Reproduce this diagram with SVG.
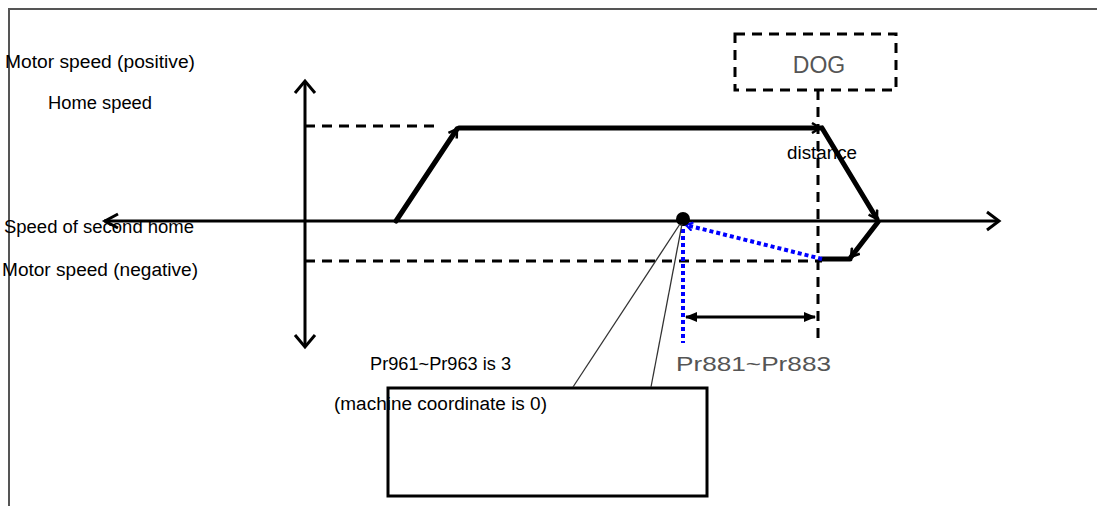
<svg xmlns="http://www.w3.org/2000/svg" width="1097" height="506" viewBox="0 0 1097 506">
<style>
.t{font-family:"Liberation Sans",Arial,sans-serif;font-size:18px;fill:#000}
.g{font-family:"Liberation Sans",Arial,sans-serif;fill:#555}
.ax{stroke:#000;stroke-width:3;fill:none}
.th{stroke:#000;stroke-width:5;fill:none;stroke-linecap:round}
.dash{stroke:#000;stroke-width:3;fill:none;stroke-dasharray:10 7}
.blue{stroke:#0000ff;stroke-width:4;fill:none;stroke-dasharray:4 3}
.thin{stroke:#333;stroke-width:1.3;fill:none}
</style>
<defs>
<marker id="chev" viewBox="0 0 12 12" refX="10" refY="6" markerWidth="12" markerHeight="12" markerUnits="userSpaceOnUse" orient="auto">
<path d="M2,1 L10,6 L2,11" fill="none" stroke="#000" stroke-width="2.5"/>
</marker>
<marker id="bchev" viewBox="0 0 12 12" refX="10" refY="6" markerWidth="10" markerHeight="10" markerUnits="userSpaceOnUse" orient="auto">
<path d="M2,1 L10,6 L2,11" fill="none" stroke="#0000ff" stroke-width="2.5"/>
</marker>
<marker id="tri" viewBox="0 0 12 12" refX="11" refY="6" markerWidth="14" markerHeight="12" markerUnits="userSpaceOnUse" orient="auto-start-reverse">
<path d="M0,1 L12,6 L0,11 Z" fill="#000"/>
</marker>
</defs>
<path d="M9,506 L9,9 L1097,9" stroke="#555" stroke-width="2" fill="none"/>
<g id="axes">
<path class="ax" d="M305,82 L305,346"/>
<path class="ax" d="M295,93 L305,81 L315,93"/>
<path class="ax" d="M295,335 L305,347 L315,335"/>
<path class="ax" d="M104,221 L998,221"/>
<path class="ax" d="M987,212 L999,221 L987,230"/>
<path class="ax" d="M118,214 L105,221 L118,228"/>
</g>
<g id="dog">
<rect x="735" y="34" width="161" height="56" class="dash"/>
<text class="g" x="819" y="73" font-size="23" text-anchor="middle">DOG</text>
</g>
<g id="note-box">
<rect x="388" y="388" width="319" height="108" fill="none" stroke="#000" stroke-width="3"/>
</g>
<g id="connectors">
<path class="dash" d="M305,126 L437,126" stroke-dasharray="8 6"/>
<path class="dash" d="M305,261 L822,261"/>
<path class="dash" d="M818,90 L818,340"/>
<path class="th" d="M396,221 L457,129" marker-end="url(#chev)"/>
<path class="th" d="M459,128 L820,128" marker-end="url(#chev)"/>
<path class="th" d="M822,128 L877,219" marker-end="url(#chev)"/>
<path class="th" d="M878,222 L851,257" marker-end="url(#chev)"/>
<path class="th" d="M850,259 L822,259"/>
<path class="blue" d="M822,259 L686,225" marker-end="url(#bchev)"/>
<path class="blue" d="M683,222 L683,343"/>
<circle cx="683" cy="219" r="7" fill="#000"/>
<path class="thin" d="M680,224 L573,387"/>
<path class="thin" d="M682,224 L651,387"/>
<path stroke="#000" stroke-width="3" fill="none" d="M686,317 L815,317" marker-start="url(#tri)" marker-end="url(#tri)"/>
</g>
<g id="labels">
<text class="t" x="5" y="68" textLength="190" lengthAdjust="spacingAndGlyphs">Motor speed (positive)</text>
<text class="t" x="48" y="109" textLength="104" lengthAdjust="spacingAndGlyphs">Home speed</text>
<text class="t" x="4" y="233" textLength="190" lengthAdjust="spacingAndGlyphs">Speed of second home</text>
<text class="t" x="2" y="276" textLength="196" lengthAdjust="spacingAndGlyphs">Motor speed (negative)</text>
<text class="t" x="787" y="159" textLength="70" lengthAdjust="spacingAndGlyphs">distance</text>
<text class="t" x="370" y="370" textLength="141" lengthAdjust="spacingAndGlyphs">Pr961~Pr963 is 3</text>
<text class="t" x="334" y="410" textLength="213" lengthAdjust="spacingAndGlyphs">(machine coordinate is 0)</text>
<text class="g" x="676" y="371" font-size="21" textLength="155" lengthAdjust="spacingAndGlyphs">Pr881~Pr883</text>
</g>
</svg>
